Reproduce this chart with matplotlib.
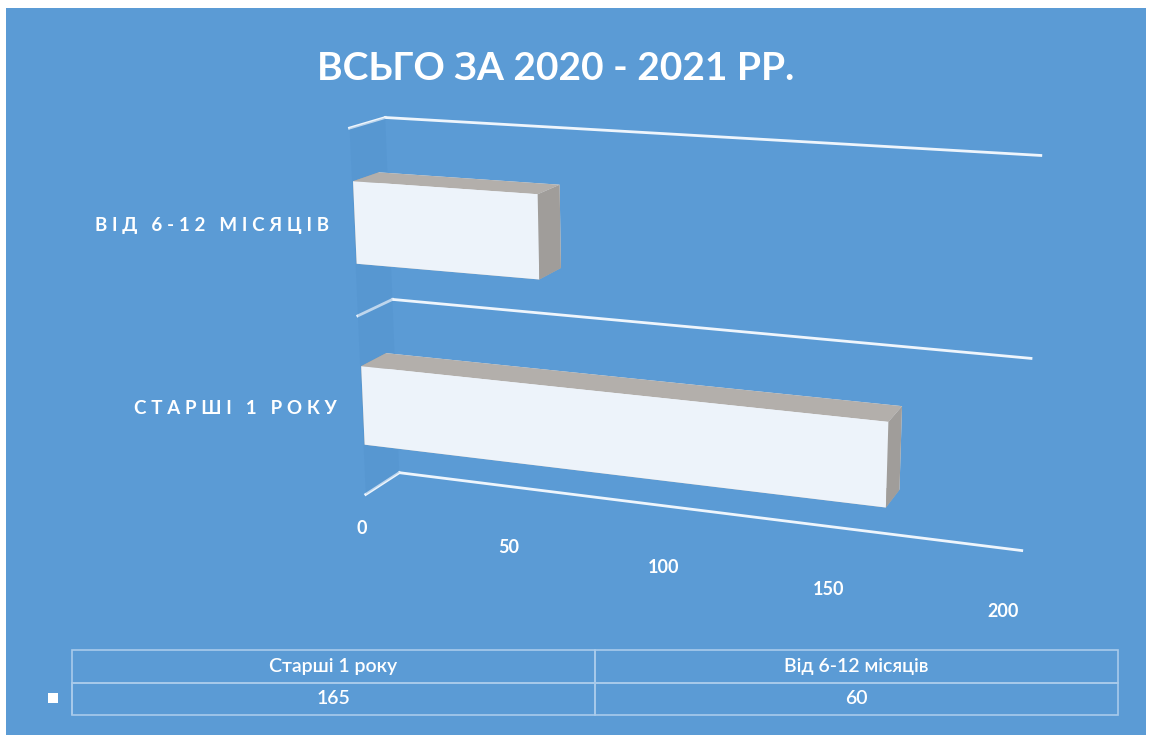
import matplotlib
matplotlib.use("Agg")
import matplotlib.pyplot as plt
import matplotlib.transforms as mtransforms
import numpy as np
from matplotlib.patches import Rectangle
from mpl_toolkits.mplot3d import proj3d

#
# data
#
title = "ВСЬГО ЗА 2020 - 2021 РР."
categories = ["Старші 1 року", "Від 6-12 місяців"]
values = [165, 60]
ticks = [0, 50, 100, 150, 200]

#
# style
#
bg = "#5B9BD5"
grid_col = "#EEF5FC"
face_front = "#EDF3FA"
face_top = "#B3AFAB"
face_side = "#A09D9A"
depth = 1.0
bar_h = 0.44
bar_y0, bar_y1 = 0.03, 0.75

plt.rcParams['font.family'] = ['Lato', 'DejaVu Sans']

fig = plt.figure(figsize=(11.52, 7.43), dpi=100)
fig.patch.set_facecolor("white")
fig.add_artist(Rectangle((6 / 1152, 8 / 743), 1140 / 1152, 727 / 743,
                         transform=fig.transFigure, facecolor=bg,
                         edgecolor="none", zorder=-10))

fig.text(556 / 1152, 1 - 68 / 743, title, color="white", fontsize=28,
         fontweight="bold", ha="center", va="center")

#
# 3d chart
#
S = 722  # side of the square 3d axes, px
cx, cy = 671, 346
ax = fig.add_axes([(cx - S / 2) / 1152, (743 - cy - S / 2) / 743,
                   S / 1152, S / 743], projection="3d")
ax.set_facecolor("none")
ax.patch.set_alpha(0)
ax.set_proj_type("persp", focal_length=0.5)
ax.view_init(elev=15, azim=-70)
ax.set_box_aspect((1, 0.11, 0.572), zoom=1.07)
ax.set_xlim(0, 200)
ax.set_ylim(0, depth)
ax.set_zlim(0, len(categories))
ax.set_axis_off()

# left wall, slightly darker
yy, zz = np.meshgrid([0, depth], [0, len(categories)])
wall = ax.plot_surface(np.zeros_like(yy), yy, zz, color="#4F8FCB",
                       alpha=0.3, shade=False, linewidth=0)
wall.set_clip_on(False)

# category gridlines: side wall + back wall
for k in range(len(categories) + 1):
    l1, = ax.plot([0, 0], [0, depth], [k, k], color=grid_col, lw=2)
    l2, = ax.plot([0, ticks[-1]], [depth, depth], [k, k], color=grid_col, lw=2)
    l1.set_clip_on(False)
    l2.set_clip_on(False)

# bars
n = len(values)
xs = np.zeros(n)
ys = np.full(n, bar_y0)
zs = np.arange(n) + 0.5 - bar_h / 2
colors = []
for _ in range(n):
    # -z, +z, -y, +y, -x, +x
    colors += [face_top, face_top, face_front, face_front, face_side, face_side]
bars = ax.bar3d(xs, ys, zs, values, bar_y1 - bar_y0, bar_h, color=colors,
                shade=False, edgecolor="none", zsort="average")
bars.set_clip_on(False)

# labels placed in 2d at projected 3d points
M = ax.get_proj()

def to2d(x, y, z):
    px, py, _ = proj3d.proj_transform(np.array([x]), np.array([y]),
                                      np.array([z]), M)
    return px[0], py[0]

tick_tr = mtransforms.offset_copy(ax.transData, fig, x=-4, y=-34, units="dots")
for t in ticks:
    px, py = to2d(t, 0, 0)
    ax.text2D(px, py, str(t), transform=tick_tr, color="white", fontsize=13,
              fontweight="bold", ha="center", va="center", clip_on=False)

# the category labels are letter-spaced in the original
cat_tr = mtransforms.offset_copy(ax.transData, fig, x=-25, y=-2, units="dots")
for i, c in enumerate(categories):
    px, py = to2d(0, 0, i + 0.5)
    ax.text2D(px, py, "\u2009\u2009".join(c.upper()), transform=cat_tr,
              color="white", fontsize=13.5, fontweight="bold", ha="right",
              va="center", clip_on=False)

#
# data table
#
tax = fig.add_axes([38 / 1152, 1 - 715 / 743, (1118 - 38) / 1152, 65 / 743])
tax.set_axis_off()
tbl = tax.table(cellText=[[str(v) for v in values]], colLabels=categories,
                rowLabels=[""], cellLoc="center",
                bbox=[34 / 1080, 0, 1 - 34 / 1080, 1])
tbl.auto_set_font_size(False)
for (r, c), cell in tbl.get_celld().items():
    cell.set_facecolor("none")
    cell.set_edgecolor("#A9CBEB")
    cell.set_linewidth(1.2)
    cell.get_text().set_color("white")
    cell.get_text().set_fontsize(14)
    cell.get_text().set_fontweight("semibold")
tax.add_patch(Rectangle((10 / 1080, 0.18), 10 / 1080, 10 / 65,
                        transform=tax.transAxes, facecolor="white",
                        edgecolor="none"))

fig.savefig("out.png", dpi=100, facecolor=fig.get_facecolor())
